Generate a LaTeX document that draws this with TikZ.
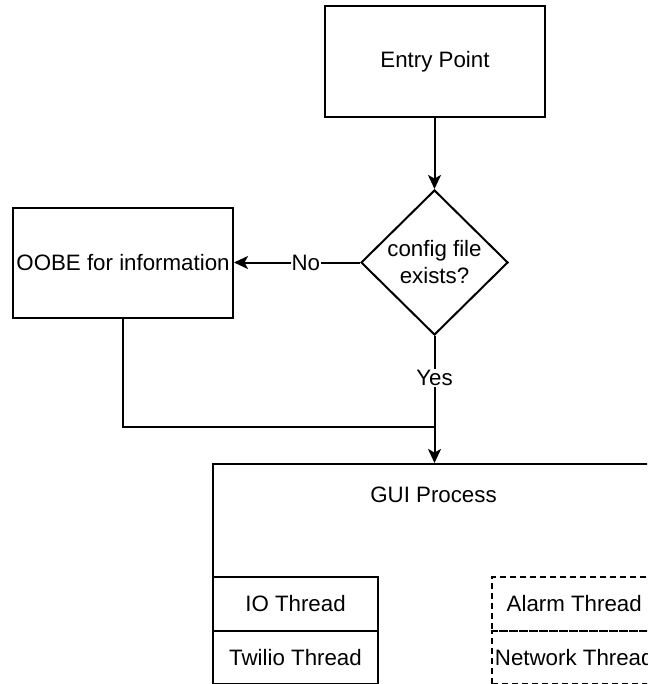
\documentclass[tikz,border=0pt]{standalone}
\usepackage{fontspec}
\setmainfont{Liberation Sans}
\usetikzlibrary{shapes.geometric,arrows.meta}
\begin{document}
\begin{tikzpicture}[x=1pt,y=-1pt,
  every node/.style={font=\fontsize{22.3}{27}\selectfont},
  line/.style={line width=2pt},
  box/.style={draw,line width=2pt,rectangle,inner sep=0pt,anchor=north west},
  dbox/.style={draw,line width=1.5pt,dash pattern=on 6pt off 4pt,rectangle,inner sep=0pt,anchor=north west},
  arr/.style={line width=2pt,-{Stealth[length=14pt,width=13pt,inset=3.5pt]}},
  lbl/.style={fill=white,inner sep=1pt}]
\useasboundingbox (0,0) rectangle (647,684);
\clip (0,0) rectangle (647,684);
\node[box,minimum width=220pt,minimum height=111pt] (entry) at (324,5) {Entry Point};
\node[draw,line width=2pt,diamond,aspect=1.01,inner sep=0pt,minimum width=147pt,minimum height=145pt,align=center] (dia) at (434.5,262.5) {config file\\exists?};
\node[box,minimum width=220pt,minimum height=110pt] (oobe) at (12,207) {OOBE for information};
\node[box,minimum width=443pt,minimum height=260pt] (gui) at (212,463) {};
\node (guilbl) at (433.5,495) {GUI Process};
\node[box,minimum width=165pt,minimum height=54pt] (io) at (212,576) {IO Thread};
\node[box,minimum width=165pt,minimum height=53pt] (tw) at (212,630) {Twilio Thread};
\node[dbox,minimum width=165pt,minimum height=54pt] (al) at (491,576) {Alarm Thread};
\node[dbox,minimum width=165pt,minimum height=53pt] (nw) at (491,630) {Network Thread};
\coordinate (join) at (434,427);
\draw[arr] (entry.south -| dia.north) -- (dia.north);
\draw[arr] (dia.west) -- node[lbl,pos=0.43]{No} (oobe.east |- dia.west);
\draw[line] (oobe.south) |- (join);
\draw[arr] (dia.south) -- node[lbl,pos=0.33]{Yes} (dia.south |- gui.north);
\end{tikzpicture}
\end{document}
